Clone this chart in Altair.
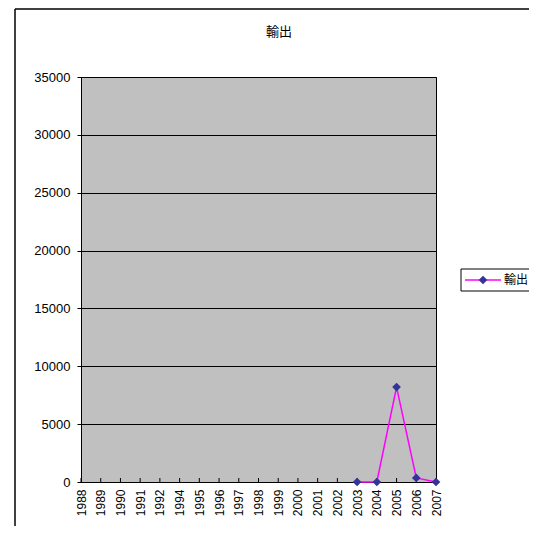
import altair as alt
import pandas as pd

title_text = "輸出"
series_name = "輸出"
years = ["1988", "1989", "1990", "1991", "1992", "1994", "1995", "1996", "1997",
         "1998", "1999", "2000", "2001", "2002", "2003", "2004", "2005", "2006", "2007"]
values = [None] * 14 + [0, 0, 8200, 350, 0]
y_ticks = [0, 5000, 10000, 15000, 20000, 25000, 30000, 35000]

df = pd.DataFrame({"year": years, "value": values})
one = pd.DataFrame({"series": [series_name], "title": [title_text]})

W, H = 355, 405
FONT = "Liberation Sans, Arial, Noto Sans CJK JP"
CJK = "Noto Sans CJK JP"

x_enc = alt.X("year:O", scale=alt.Scale(type="point", domain=years, padding=0),
              axis=alt.Axis(title=None, labelAngle=270, labelAlign="right", labelBaseline="middle",
                            labelPadding=7, tickSize=0, domainColor="black", labelColor="black",
                            labelFontSize=12, labelFont=FONT, grid=False))
y_enc = alt.Y("value:Q", scale=alt.Scale(domain=[0, 35000], nice=False),
              axis=alt.Axis(title=None, values=y_ticks, format="d", tickSize=4, tickColor="black",
                            labelPadding=7, labelFontSize=13, labelFont=FONT, labelColor="black",
                            domainColor="black", grid=True, gridColor="black", gridOpacity=1,
                            gridWidth=1))

frame_top = alt.Chart(one).mark_rule(color="black", strokeWidth=1.5).encode(
    x=alt.value(-66), x2=alt.value(460), y=alt.value(-68))
frame_left = alt.Chart(one).mark_rule(color="black", strokeWidth=1.5).encode(
    x=alt.value(-66), y=alt.value(-68), y2=alt.value(460))

title = alt.Chart(one).mark_text(font=CJK, fontSize=13, align="center", baseline="middle", color="black").encode(
    text="title:N", x=alt.value(198), y=alt.value(-45))

ticks = alt.Chart(df).mark_rule(color="black", strokeWidth=1).encode(
    x=x_enc, y=alt.value(H - 4), y2=alt.value(H))

line = alt.Chart(df).mark_line(color="#FF00FF", strokeWidth=1.5).encode(x=x_enc, y=y_enc)
pts = alt.Chart(df).mark_point(shape="diamond", filled=True, color="#333399", size=75, opacity=1).encode(
    x=x_enc, y=y_enc)

leg_box = alt.Chart(one).mark_rect(filled=False, stroke="black", strokeWidth=1, fillOpacity=0).encode(
    x=alt.value(380), x2=alt.value(480), y=alt.value(192), y2=alt.value(214))
leg_line = alt.Chart(one).mark_rule(color="#FF00FF", strokeWidth=1.5).encode(
    x=alt.value(384), x2=alt.value(420), y=alt.value(203))
leg_pt = alt.Chart(one).mark_point(shape="diamond", filled=True, color="#333399", size=75, opacity=1).encode(
    x=alt.value(402), y=alt.value(203))
leg_text = alt.Chart(one).mark_text(font=CJK, fontSize=12, align="left", baseline="middle", color="black").encode(
    text="series:N", x=alt.value(423), y=alt.value(203))

chart = alt.layer(frame_top, frame_left, title, ticks, line, pts, leg_box, leg_line, leg_pt, leg_text).properties(
    width=W, height=H,
    autosize=alt.AutoSizeParams(type="none"),
    padding={"left": 73, "top": 69, "right": 93, "bottom": 44},
    background="white",
).configure_view(fill="#C0C0C0", stroke="black", strokeWidth=1)

chart.save("out.html", embed_options={"renderer": "svg", "actions": False})
